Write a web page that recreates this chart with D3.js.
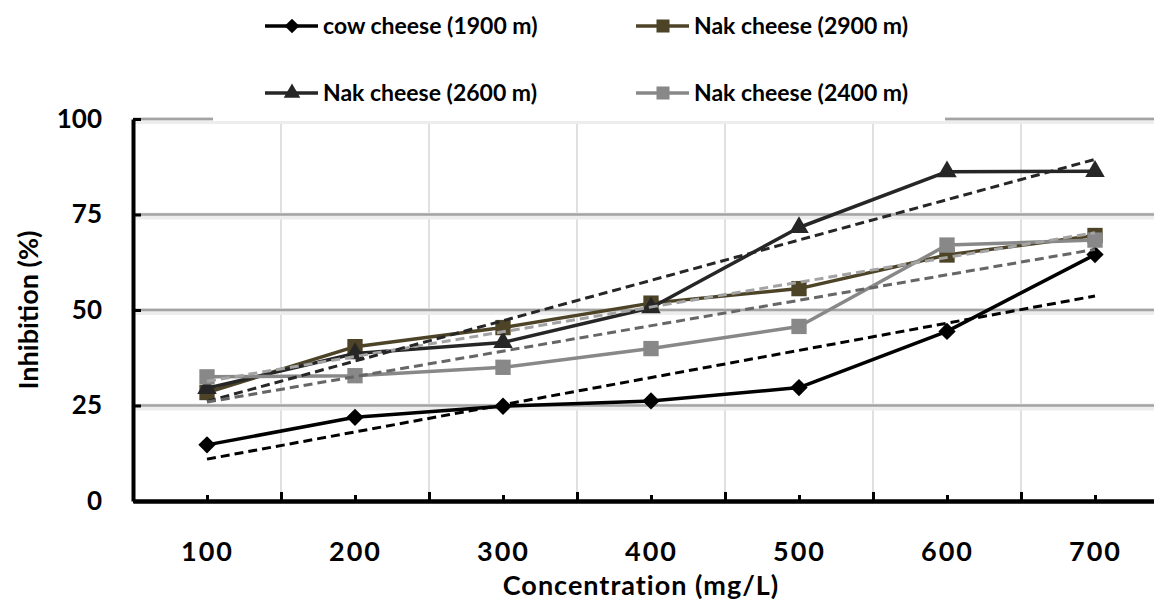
<!DOCTYPE html>
<html>
<head>
<meta charset="utf-8">
<script src="https://cdn.jsdelivr.net/npm/d3@7"></script>
<style>
  html, body { margin: 0; padding: 0; background: #fff; }
  svg { display: block; font-family: Lato, "Open Sans", sans-serif; font-weight: bold; }
</style>
</head>
<body>
<svg id="chart" width="1154" height="605"></svg>
<script>
// Concentrations (mg/L) on the x axis
const concentrations = [100, 200, 300, 400, 500, 600, 700];
// Category boundaries, where the major ticks and vertical gridlines sit
const boundaries = [150, 250, 350, 450, 550, 650, 750];
const yTicks = [0, 25, 50, 75, 100];

// Inhibition (%) per cheese sample
const cow1900 = [14.7, 21.9, 24.8, 26.2, 29.7, 44.4, 64.5];
const nak2900 = [28.4, 40.4, 45.4, 51.8, 55.6, 64.4, 69.5];
const nak2600 = [29.5, 38.6, 41.5, 50.6, 71.6, 86.2, 86.3];
const nak2400 = [32.5, 32.8, 35.0, 39.9, 45.7, 67.0, 68.3];

const seriesNames = ["cow cheese (1900 m)", "Nak cheese (2900 m)", "Nak cheese (2600 m)", "Nak cheese (2400 m)"];

const series = [
  { name: seriesNames[0], values: cow1900, color: "#000000", marker: "diamond", trend: "#000000" },
  { name: seriesNames[1], values: nak2900, color: "#4d4428", marker: "square",  trend: "#a3a3a3" },
  { name: seriesNames[2], values: nak2600, color: "#262626", marker: "triangle", trend: "#262626" },
  { name: seriesNames[3], values: nak2400, color: "#888888", marker: "square",  trend: "#666666" }
];

const svg = d3.select("#chart");
const W = 1154, H = 605;
const plot = { left: 133, top: 119, bottom: 501 };

const x = d3.scaleLinear().domain([50, 750]).range([plot.left, plot.left + 1036]);
const y = d3.scaleLinear().domain([0, 100]).range([plot.bottom, plot.top]);

// vertical gridlines at category boundaries
svg.append("g").selectAll("line").data(boundaries).join("line")
  .attr("x1", d => x(d)).attr("x2", d => x(d))
  .attr("y1", y(100)).attr("y2", y(0))
  .attr("stroke", "#d6d6d6").attr("stroke-width", 1.5);

// horizontal gridlines with a soft halo
const hGrid = svg.append("g");
hGrid.selectAll("line.halo").data(yTicks.slice(1)).join("line")
  .attr("class", "halo")
  .attr("x1", plot.left).attr("x2", W)
  .attr("y1", d => y(d) + 1.5).attr("y2", d => y(d) + 1.5)
  .attr("stroke", "#ededed").attr("stroke-width", 7);
hGrid.selectAll("line.grid").data(yTicks.slice(1)).join("line")
  .attr("class", "grid")
  .attr("x1", plot.left).attr("x2", W)
  .attr("y1", d => y(d)).attr("y2", d => y(d))
  .attr("stroke", "#a3a3a3").attr("stroke-width", 2.5);

// marker shapes
function markerPath(type, scale) {
  const s = scale || 1;
  if (type === "diamond") return d3.symbol(d3.symbolSquare, 150 * s * s)();
  if (type === "square") return d3.symbol(d3.symbolSquare, 235 * s * s)();
  return d3.symbol(d3.symbolTriangle, 165 * s * s)();
}
function markerTransform(type, px, py) {
  return `translate(${px},${py})` + (type === "diamond" ? " rotate(45)" : "");
}

const line = d3.line().x(d => x(d.c)).y(d => y(d.v));

// series lines and markers
series.forEach(s => {
  const pts = concentrations.map((c, i) => ({ c, v: s.values[i] }));
  const g = svg.append("g");
  g.append("path").datum(pts)
    .attr("d", line)
    .attr("fill", "none").attr("stroke", s.color).attr("stroke-width", 3.5)
    .attr("stroke-linejoin", "round");
  g.selectAll("path.m").data(pts).join("path")
    .attr("class", "m")
    .attr("d", markerPath(s.marker))
    .attr("transform", d => markerTransform(s.marker, x(d.c), y(d.v)))
    .attr("fill", s.color);
});

// linear trendlines (least squares)
series.forEach(s => {
  const n = concentrations.length;
  const mx = d3.mean(concentrations), my = d3.mean(s.values);
  let sxy = 0, sxx = 0;
  concentrations.forEach((c, i) => { sxy += (c - mx) * (s.values[i] - my); sxx += (c - mx) * (c - mx); });
  const slope = sxy / sxx, icpt = my - slope * mx;
  const ends = [concentrations[0], concentrations[n - 1]].map(c => ({ c, v: icpt + slope * c }));
  svg.append("path").datum(ends)
    .attr("d", line)
    .attr("fill", "none").attr("stroke", s.trend).attr("stroke-width", 3)
    .attr("stroke-dasharray", "9,5");
});

// axes
const yAxis = svg.append("g").attr("transform", `translate(${plot.left},0)`)
  .call(d3.axisLeft(y).tickValues(yTicks).tickSizeInner(-8).tickSizeOuter(0).tickPadding(31));
const xMinor = svg.append("g").attr("transform", `translate(0,${plot.bottom})`)
  .call(d3.axisBottom(x).tickValues(concentrations).tickSizeInner(-6).tickSizeOuter(0).tickPadding(41));
const xMajor = svg.append("g").attr("transform", `translate(0,${plot.bottom})`)
  .call(d3.axisBottom(x).tickValues(boundaries).tickSizeInner(-9).tickSizeOuter(0).tickFormat(""));

[yAxis, xMinor, xMajor].forEach(a => {
  a.select(".domain").attr("stroke", "#000").attr("stroke-width", 4);
  a.selectAll(".tick line").attr("stroke", "#000").attr("stroke-width", 3);
});
yAxis.selectAll(".tick text").attr("font-size", 26).attr("fill", "#000")
  .attr("font-family", "Lato").attr("font-weight", "bold");
xMinor.selectAll(".tick text").attr("font-size", 27).attr("fill", "#000")
  .attr("font-family", "Lato").attr("font-weight", "bold").attr("letter-spacing", 2);

// axis titles
svg.append("text")
  .attr("x", 641).attr("y", 595)
  .attr("text-anchor", "middle").attr("font-size", 27).attr("letter-spacing", 1).attr("fill", "#000")
  .text("Concentration (mg/L)");
svg.append("text")
  .attr("transform", "translate(38,310) rotate(-90)")
  .attr("text-anchor", "middle").attr("font-size", 27).attr("fill", "#000")
  .text("Inhibition (%)");

// legend
const legend = svg.append("g");
legend.append("rect").attr("x", 213).attr("y", 0).attr("width", 732).attr("height", 121).attr("fill", "#fff");
const legendPos = [
  { x: 265, y: 26 }, { x: 636, y: 26 },
  { x: 265, y: 93 }, { x: 636, y: 93 }
];
series.forEach((s, i) => {
  const p = legendPos[i];
  const g = legend.append("g").attr("transform", `translate(${p.x},${p.y})`);
  g.append("line").attr("x1", 0).attr("x2", 53).attr("y1", 0).attr("y2", 0)
    .attr("stroke", s.color).attr("stroke-width", 3.5);
  g.append("path").attr("d", markerPath(s.marker, 0.85))
    .attr("transform", markerTransform(s.marker, 27, 0)).attr("fill", s.color);
  g.append("text").attr("x", 58).attr("y", 0).attr("dy", "0.35em")
    .attr("font-size", 23).attr("fill", "#000").text(s.name);
});
</script>
</body>
</html>
